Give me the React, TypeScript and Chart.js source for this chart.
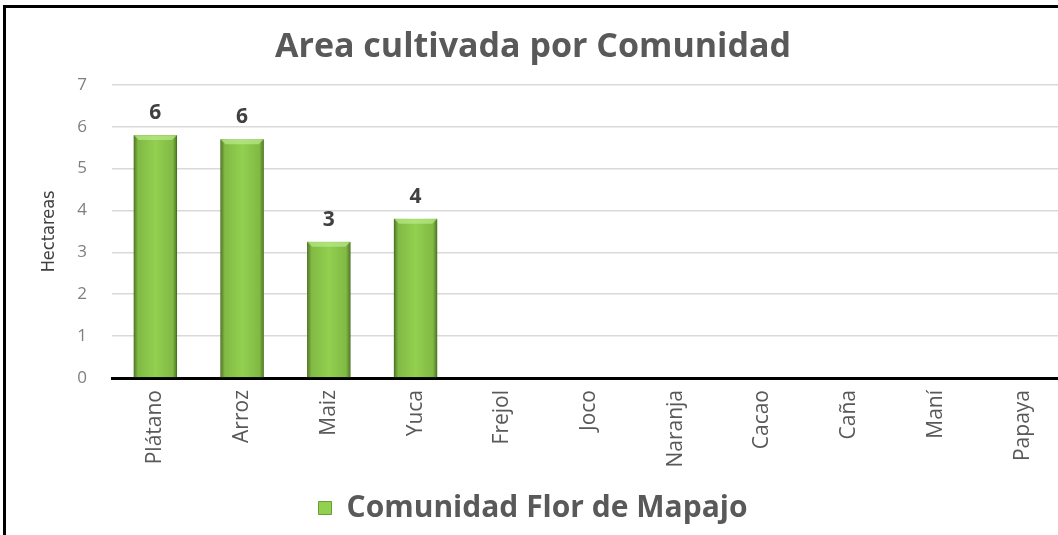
import React, { useEffect, useRef } from "react";
import { Chart, registerables } from "chart.js";

Chart.register(...registerables);

const categories = ["Plátano", "Arroz", "Maiz", "Yuca", "Frejol", "Joco", "Naranja", "Cacao", "Caña", "Maní", "Papaya"];
const hectareas: (number | null)[] = [5.8, 5.7, 3.25, 3.8, null, null, null, null, null, null, null];
const seriesName = "Comunidad Flor de Mapajo";
const chartTitle = "Area cultivada por Comunidad";
const yAxisTitle = "Hectareas";
const yMin = 0;
const yMax = 7;
const yStep = 1;

const FONT = "'Open Sans', 'DejaVu Sans', sans-serif";

const barStyle = {
  id: "barStyle",
  afterDatasetsDraw(chart: any) {
    const ctx = chart.ctx;
    const meta = chart.getDatasetMeta(0);
    meta.data.forEach((el: any, i: number) => {
      const v = hectareas[i];
      if (v == null) return;
      const { x, y, base, width } = el.getProps(["x", "y", "base", "width"], true);
      const l = x - width / 2;
      const r = x + width / 2;
      ctx.save();
      const g = ctx.createLinearGradient(l, 0, r, 0);
      g.addColorStop(0, "rgba(60,95,20,0.8)");
      g.addColorStop(0.1, "rgba(60,95,20,0.2)");
      g.addColorStop(0.5, "rgba(60,95,20,0)");
      g.addColorStop(0.9, "rgba(60,95,20,0.2)");
      g.addColorStop(1, "rgba(60,95,20,0.8)");
      ctx.fillStyle = g;
      ctx.fillRect(l, y, width, base - y);
      const b = 5;
      ctx.beginPath();
      ctx.moveTo(l, y);
      ctx.lineTo(r, y);
      ctx.lineTo(r - b, y + b);
      ctx.lineTo(l + b, y + b);
      ctx.closePath();
      ctx.fillStyle = "rgba(185,235,135,0.7)";
      ctx.fill();
      ctx.fillStyle = "#404040";
      ctx.font = `bold 21px ${FONT}`;
      ctx.textAlign = "center";
      ctx.textBaseline = "middle";
      ctx.fillText(String(Math.round(v)), x, y - 22);
      ctx.restore();
    });
  },
};

export default function App() {
  const ref = useRef<HTMLCanvasElement>(null);
  useEffect(() => {
    if (!ref.current) return;
    const chart = new Chart(ref.current, {
      type: "bar",
      data: {
        labels: categories,
        datasets: [
          {
            label: seriesName,
            data: hectareas,
            backgroundColor: "#92D050",
            borderColor: "#6E9B35",
            borderWidth: 1,
            categoryPercentage: 1,
            barPercentage: 0.5,
          },
        ],
      },
      options: {
        responsive: false,
        animation: false,
        layout: { padding: { top: 0, left: 0, right: 0, bottom: 2 } },
        plugins: {
          title: {
            display: true,
            text: chartTitle,
            color: "#595959",
            font: { family: FONT, size: 34, weight: "bold" },
            padding: { top: 27, bottom: 17 },
          },
          legend: {
            position: "bottom",
            labels: {
              color: "#595959",
              font: { family: FONT, size: 30, weight: "bold" },
              boxWidth: 13,
              boxHeight: 13,
              padding: 10,
            },
          },
          tooltip: { enabled: false },
        },
        scales: {
          x: {
            z: 1,
            grid: { display: false, drawTicks: false },
            border: { display: true, color: "#000000", width: 3 },
            ticks: {
              color: "#595959",
              font: { family: FONT, size: 21 },
              minRotation: 90,
              maxRotation: 90,
              padding: 12,
              autoSkip: false,
            },
            afterFit: (s: any) => {
              s.height = 105;
            },
          },
          y: {
            min: yMin,
            max: yMax,
            ticks: {
              stepSize: yStep,
              color: "#7F7F7F",
              font: { family: FONT, size: 17 },
              padding: 25,
            },
            grid: { color: "#D9D9D9", lineWidth: 1.5, drawTicks: false },
            border: { display: false },
            title: {
              display: true,
              text: yAxisTitle,
              color: "#404040",
              font: { family: "'Liberation Sans Narrow', 'DejaVu Sans Condensed', sans-serif", size: 18 },
              padding: { top: 39, bottom: 0 },
            },
            afterFit: (s: any) => {
              s.width = 112;
            },
          },
        },
      },
      plugins: [barStyle],
    } as any);
    return () => chart.destroy();
  }, []);

  return (
    <div
      style={{
        position: "fixed",
        left: 0,
        top: 0,
        width: 1058,
        height: 535,
        overflow: "hidden",
        background: "#ffffff",
      }}
    >
      <canvas ref={ref} width={1066} height={535} style={{ width: 1066, height: 535, display: "block" }} />
      <div style={{ position: "absolute", left: 3, top: 5, width: 1060, height: 3, background: "#000" }} />
      <div style={{ position: "absolute", left: 3, top: 5, width: 3, height: 540, background: "#000" }} />
    </div>
  );
}
